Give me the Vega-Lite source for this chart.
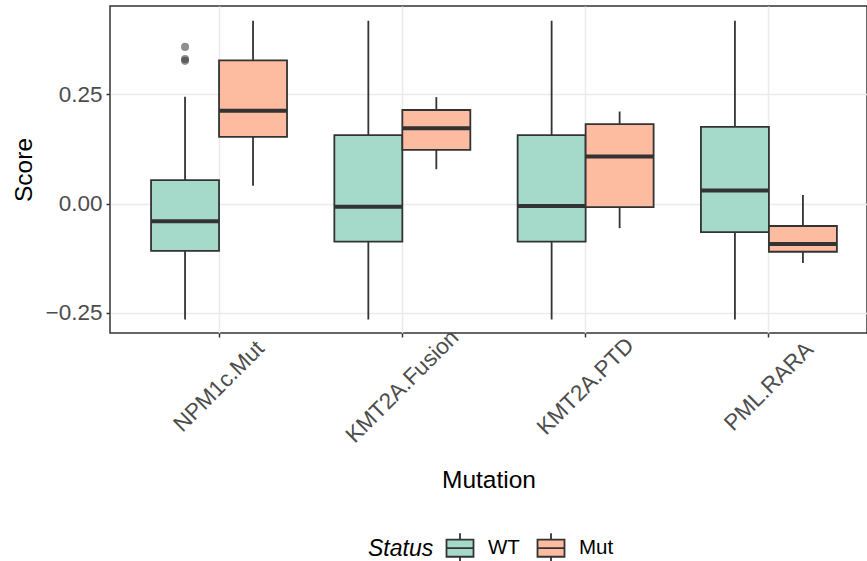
{
  "$schema": "https://vega.github.io/schema/vega-lite/v6.json",
  "width": 757,
  "height": 327,
  "autosize": {"type": "none"},
  "padding": {"left": 110, "top": 6, "right": 0, "bottom": 228},
  "background": "white",
  "config": {
    "font": "Liberation Sans",
    "view": {"stroke": "#333333", "strokeWidth": 1.5}
  },
  "datasets": {
    "boxes": [
      {"Mutation": "NPM1c.Mut", "Status": "WT", "lower": -0.265, "q1": -0.108, "median": -0.040, "q3": 0.054, "upper": 0.245},
      {"Mutation": "NPM1c.Mut", "Status": "Mut", "lower": 0.041, "q1": 0.153, "median": 0.213, "q3": 0.328, "upper": 0.419},
      {"Mutation": "KMT2A.Fusion", "Status": "WT", "lower": -0.265, "q1": -0.087, "median": -0.007, "q3": 0.157, "upper": 0.419},
      {"Mutation": "KMT2A.Fusion", "Status": "Mut", "lower": 0.079, "q1": 0.123, "median": 0.173, "q3": 0.2145, "upper": 0.244},
      {"Mutation": "KMT2A.PTD", "Status": "WT", "lower": -0.265, "q1": -0.087, "median": -0.005, "q3": 0.157, "upper": 0.419},
      {"Mutation": "KMT2A.PTD", "Status": "Mut", "lower": -0.056, "q1": -0.008, "median": 0.108, "q3": 0.182, "upper": 0.211},
      {"Mutation": "PML.RARA", "Status": "WT", "lower": -0.265, "q1": -0.065, "median": 0.030, "q3": 0.176, "upper": 0.419},
      {"Mutation": "PML.RARA", "Status": "Mut", "lower": -0.136, "q1": -0.110, "median": -0.092, "q3": -0.051, "upper": 0.020}
    ],
    "outliers": [
      {"Mutation": "NPM1c.Mut", "Status": "WT", "Score": 0.359},
      {"Mutation": "NPM1c.Mut", "Status": "WT", "Score": 0.331},
      {"Mutation": "NPM1c.Mut", "Status": "WT", "Score": 0.327}
    ]
  },
  "encoding": {
    "x": {
      "field": "Mutation",
      "type": "nominal",
      "sort": ["NPM1c.Mut", "KMT2A.Fusion", "KMT2A.PTD", "PML.RARA"],
      "scale": {"domain": ["NPM1c.Mut", "KMT2A.Fusion", "KMT2A.PTD", "PML.RARA"], "paddingInner": 0, "paddingOuter": 0.065, "align": 0.73},
      "axis": {
        "title": "Mutation",
        "labelAngle": -45,
        "labelAlign": "center",
        "labelBaseline": "middle",
        "labelPadding": 49,
        "labelFontSize": 22.5,
        "labelColor": "#4D4D4D",
        "tickColor": "#333333",
        "tickSize": 4,
        "tickWidth": 1.5,
        "domain": false,
        "grid": true,
        "gridColor": "#EBEBEB",
        "gridWidth": 1.5,
        "bandPosition": 0.5,
        "titleFontSize": 24.5,
        "titleFontWeight": "normal",
        "titleColor": "black",
        "titlePadding": 22
      }
    },
    "xOffset": {
      "field": "Status",
      "type": "nominal",
      "sort": ["WT", "Mut"],
      "scale": {"domain": ["WT", "Mut"], "paddingInner": 0, "paddingOuter": 0.348}
    }
  },
  "layer": [
    {
      "data": {"name": "boxes"},
      "mark": {"type": "rule", "color": "#333333", "strokeWidth": 1.8},
      "encoding": {
        "y": {
          "field": "lower",
          "type": "quantitative",
          "scale": {"domain": [-0.296, 0.4526], "nice": false, "zero": false},
          "axis": {
            "title": "Score",
            "values": [-0.25, 0, 0.25],
            "format": ".2f",
            "labelFontSize": 22.5,
            "labelColor": "#4D4D4D",
            "labelPadding": 4,
            "tickColor": "#333333",
            "tickSize": 4,
            "tickWidth": 1.5,
            "domain": false,
            "grid": true,
            "gridColor": "#EBEBEB",
            "gridWidth": 1.5,
            "titleFontSize": 24.5,
            "titleFontWeight": "normal",
            "titleColor": "black",
            "titlePadding": 9
          }
        },
        "y2": {"field": "upper"}
      }
    },
    {
      "data": {"name": "boxes"},
      "mark": {"type": "bar", "stroke": "#333333", "strokeWidth": 1.8, "opacity": 1},
      "encoding": {
        "y": {"field": "q1", "type": "quantitative"},
        "y2": {"field": "q3"},
        "fill": {
          "field": "Status",
          "type": "nominal",
          "sort": ["WT", "Mut"],
          "scale": {"domain": ["WT", "Mut"], "range": ["#A5DACA", "#FDBBA0"]},
          "legend": {
            "orient": "none",
            "legendX": 258,
            "legendY": 526,
            "direction": "horizontal",
            "title": "Status",
            "titleOrient": "left",
            "titleFontStyle": "italic",
            "titleFontWeight": "normal",
            "titleFontSize": 23,
            "titleColor": "black",
            "titlePadding": 10,
            "labelFontSize": 20.5,
            "labelColor": "black",
            "labelOffset": 12,
            "columnPadding": 13,
            "symbolType": "M-0.9,-0.57H0.9V0.57H-0.9Z M-0.9,0H0.9 M0,-0.57V-1 M0,0.57V1",
            "symbolSize": 900,
            "symbolStrokeColor": "#333333",
            "symbolStrokeWidth": 1.8,
            "symbolOpacity": 1
          }
        }
      }
    },
    {
      "data": {"name": "boxes"},
      "mark": {"type": "bar", "stroke": "#333333", "strokeWidth": 4, "fill": "#333333"},
      "encoding": {
        "y": {"field": "median", "type": "quantitative"},
        "y2": {"field": "median"}
      }
    },
    {
      "data": {"name": "outliers"},
      "mark": {"type": "circle", "color": "#333333", "opacity": 0.55, "size": 65},
      "encoding": {
        "y": {"field": "Score", "type": "quantitative"}
      }
    }
  ]
}
